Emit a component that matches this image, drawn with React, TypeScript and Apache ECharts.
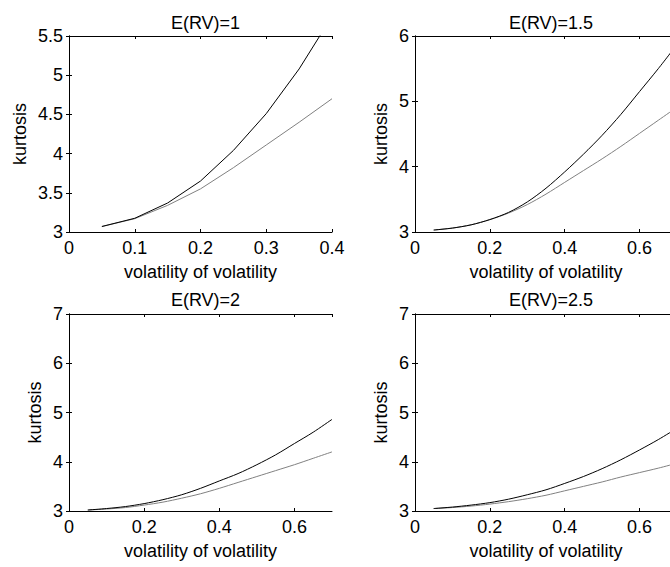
import React, { useEffect, useRef } from "react";
import * as echarts from "echarts";

// x values
const xA = [0.05, 0.1, 0.15, 0.2, 0.25, 0.3, 0.35, 0.4];
const xB = [0.05, 0.1, 0.15, 0.2, 0.25, 0.3, 0.35, 0.4, 0.45, 0.5, 0.55, 0.6, 0.65, 0.7];

// E(RV)=1
const black1 = [3.07, 3.175, 3.37, 3.65, 4.04, 4.51, 5.08, 5.75];
const gray1 = [3.07, 3.17, 3.34, 3.55, 3.82, 4.11, 4.4, 4.7];
// E(RV)=1.5
const black15 = [3.03, 3.06, 3.11, 3.19, 3.3, 3.46, 3.67, 3.92, 4.19, 4.48, 4.8, 5.15, 5.5, 5.87];
const gray15 = [3.03, 3.06, 3.11, 3.19, 3.29, 3.42, 3.58, 3.76, 3.94, 4.12, 4.31, 4.51, 4.71, 4.91];
// E(RV)=2
const black2 = [3.02, 3.05, 3.09, 3.15, 3.23, 3.33, 3.46, 3.61, 3.76, 3.94, 4.14, 4.37, 4.6, 4.86];
const gray2 = [3.02, 3.04, 3.07, 3.12, 3.18, 3.26, 3.35, 3.46, 3.58, 3.7, 3.82, 3.94, 4.07, 4.2];
// E(RV)=2.5
const black25 = [3.05, 3.08, 3.12, 3.17, 3.24, 3.33, 3.43, 3.56, 3.7, 3.86, 4.04, 4.24, 4.45, 4.68];
const gray25 = [3.05, 3.07, 3.1, 3.14, 3.19, 3.25, 3.32, 3.41, 3.5, 3.59, 3.69, 3.78, 3.87, 3.97];

const titles = ["E(RV)=1", "E(RV)=1.5", "E(RV)=2", "E(RV)=2.5"];
const xMaxes = [0.4, 0.7, 0.7, 0.7];
const xIntervals = [0.1, 0.2, 0.2, 0.2];
const yMaxes = [5.5, 6, 7, 7];
const yIntervals = [0.5, 1, 1, 1];
const xLabel = "volatility of volatility";
const yLabel = "kurtosis";

const panels = [
  { x: xA, black: black1, gray: gray1, smooth: false },
  { x: xB, black: black15, gray: gray15, smooth: true },
  { x: xB, black: black2, gray: gray2, smooth: true },
  { x: xB, black: black25, gray: gray25, smooth: true },
];

const FONT = "'Liberation Sans', Arial, sans-serif";

export default function App() {
  const ref = useRef<HTMLDivElement>(null);
  useEffect(() => {
    if (!ref.current) return;
    const chart = echarts.init(ref.current, undefined, { renderer: "svg" });
    const grids = [
      { left: 69, top: 36, width: 263, height: 196 },
      { left: 415, top: 36, width: 262, height: 196 },
      { left: 69, top: 314, width: 263, height: 197 },
      { left: 415, top: 314, width: 262, height: 197 },
    ];
    const titleTops = [9, 9, 285.5, 285.5];
    const yNameGaps = [40, 25, 25, 25];
    const axisLine = { show: true, lineStyle: { color: "#000", width: 1 } };
    const tick = { show: true, inside: true, length: 3, lineStyle: { color: "#000", width: 1 } };
    const label = { color: "#000", fontSize: 18, fontFamily: FONT };

    const xAxis: any[] = [];
    const yAxis: any[] = [];
    const series: any[] = [];
    grids.forEach((g, i) => {
      xAxis.push({
        type: "value",
        gridIndex: i,
        position: "bottom",
        min: 0,
        max: xMaxes[i],
        interval: xIntervals[i],
        axisLine,
        axisTick: tick,
        splitLine: { show: false },
        axisLabel: { ...label, margin: 7, showMaxLabel: i === 0 },
        name: xLabel,
        nameLocation: "middle",
        nameGap: 31,
        nameTextStyle: { ...label },
      });
      xAxis.push({
        type: "value",
        gridIndex: i,
        position: "top",
        min: 0,
        max: xMaxes[i],
        interval: xIntervals[i],
        axisLine,
        axisTick: tick,
        splitLine: { show: false },
        axisLabel: { show: false },
      });
      yAxis.push({
        type: "value",
        gridIndex: i,
        position: "left",
        min: 3,
        max: yMaxes[i],
        interval: yIntervals[i],
        axisLine,
        axisTick: tick,
        splitLine: { show: false },
        axisLabel: { ...label, margin: 6 },
        name: yLabel,
        nameLocation: "middle",
        nameGap: yNameGaps[i],
        nameTextStyle: { ...label },
      });
      yAxis.push({
        type: "value",
        gridIndex: i,
        position: "right",
        min: 3,
        max: yMaxes[i],
        interval: yIntervals[i],
        axisLine,
        axisTick: tick,
        splitLine: { show: false },
        axisLabel: { show: false },
      });
      const p = panels[i];
      series.push({
        type: "line",
        xAxisIndex: i * 2,
        yAxisIndex: i * 2,
        data: p.x.map((x, k) => [x, p.gray[k]]),
        showSymbol: false,
        symbol: "none",
        smooth: p.smooth ? 0.3 : false,
        lineStyle: { color: "#808080", width: 1 },
        clip: true,
        z: 2,
      });
      series.push({
        type: "line",
        xAxisIndex: i * 2,
        yAxisIndex: i * 2,
        data: p.x.map((x, k) => [x, p.black[k]]),
        showSymbol: false,
        symbol: "none",
        smooth: p.smooth ? 0.3 : false,
        lineStyle: { color: "#000", width: 1 },
        clip: true,
        z: 3,
      });
    });

    chart.setOption({
      animation: false,
      backgroundColor: "#fff",
      textStyle: { fontFamily: FONT },
      title: grids.map((g, i) => ({
        text: titles[i],
        left: g.left + g.width / 2,
        top: titleTops[i],
        textAlign: "center",
        textStyle: { color: "#000", fontSize: 18, fontWeight: "normal", fontFamily: FONT },
      })),
      grid: grids,
      xAxis,
      yAxis,
      series,
    });
    return () => chart.dispose();
  }, []);
  return (
    <div
      style={{
        position: "absolute",
        left: 0,
        top: 0,
        width: 670,
        height: 567,
        overflow: "hidden",
        background: "#fff",
      }}
    >
      <div ref={ref} style={{ width: 690, height: 567 }} />
    </div>
  );
}
